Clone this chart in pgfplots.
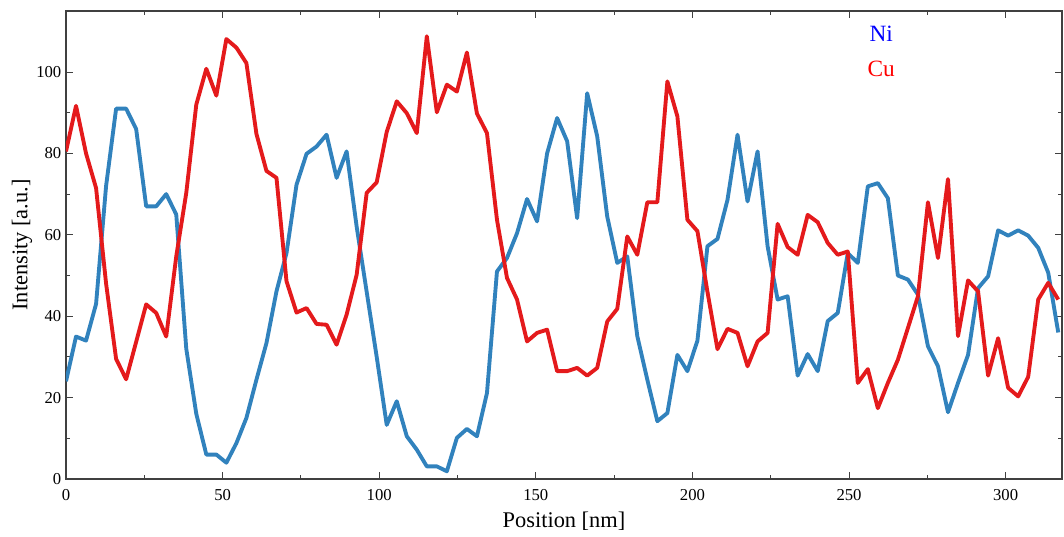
\documentclass[border=0pt]{standalone}
\usepackage{fontspec}
\setmainfont{Liberation Serif}
\usepackage{pgfplots}
\pgfplotsset{compat=1.18}
\usepackage{pgfplotstable}
\definecolor{niblue}{RGB}{49,130,189}
\definecolor{cured}{RGB}{228,26,28}
\pgfplotstableread{
x ni cu
0 24 80.5
3.2 35 91.7
6.4 34 80
9.6 43 71.5
12.8 72 48
16 91 29.5
19.2 91 24.5
22.4 86 33.7
25.6 67 42.9
28.8 67 40.8
32 70 35
35.2 65 54.7
38.4 32 70.3
41.6 16 92
44.8 6 100.8
48 6 94.2
51.2 4 108.1
54.4 8.8 106
57.6 15 102.2
60.8 24.4 84.8
64 33.4 75.7
67.2 46.1 74
70.4 55.5 48.6
73.6 72.3 40.9
76.8 79.9 42
80 81.7 38.1
83.2 84.6 37.9
86.4 74 33
89.6 80.5 40.4
92.8 62 50.2
96 46 70.3
99.2 30 72.9
102.4 13.3 85.3
105.6 19.1 92.8
108.8 10.5 89.9
112 7.2 85
115.2 3.1 108.8
118.4 3.1 90.1
121.6 1.9 96.9
124.8 10.1 95.2
128 12.3 104.8
131.2 10.5 89.8
134.4 21.1 85
137.6 51 63.7
140.8 54.3 49.4
144 60.4 44.1
147.2 68.8 33.8
150.4 63.3 35.9
153.6 80 36.7
156.8 88.7 26.5
160 83 26.5
163.2 64.1 27.3
166.4 94.8 25.4
169.6 84.2 27.3
172.8 64.5 38.7
176 53.1 41.8
179.2 54.7 59.6
182.4 35.1 55.1
185.6 24.4 68
188.8 14.2 68
192 16.2 97.7
195.2 30.5 89.1
198.4 26.5 63.7
201.6 34 60.9
204.8 57.2 46
208 59 31.9
211.2 68.6 36.9
214.4 84.6 35.9
217.6 68.2 27.7
220.8 80.5 33.8
224 57.2 35.9
227.2 44.1 62.7
230.4 44.9 57
233.6 25.4 55.1
236.8 30.7 64.9
240 26.5 63.1
243.2 38.8 58
246.4 40.8 55.1
249.6 55.5 55.9
252.8 53.1 23.6
256 71.9 27
259.2 72.7 17.4
262.4 69 23.6
265.6 50 29.3
268.8 49 37.1
272 45.3 44.9
275.2 32.6 68
278.4 27.7 54.3
281.6 16.4 73.7
284.8 23.6 35.1
288 30.5 48.8
291.2 46.9 46.1
294.4 49.8 25.4
297.6 61.1 34.6
300.8 59.8 22.4
304 61.1 20.3
307.2 59.8 25.1
310.4 56.8 44.1
313.6 50.7 48.2
316.8 36 44.1
}\profile
\begin{document}
\begin{tikzpicture}
\begin{axis}[
  scale only axis,
  width=747pt, height=351pt,
  xmin=0, xmax=318, ymin=0, ymax=115,
  xtick={0,50,...,300}, ytick={0,20,...,100},
  minor x tick num=1, minor y tick num=1,
  tick align=inside,
  major tick length=5.25pt, minor tick length=3pt,
  axis line style={black!75, line width=0.8pt},
  every tick/.style={black!75, line width=0.7pt},
  tick label style={font=\fontsize{12.5}{14}\selectfont},
  xticklabel style={yshift=-4.5pt},
  /pgf/number format/assume math mode=true,
  label style={font=\fontsize{16.8}{20}\selectfont},
  xlabel={Position [nm]},
  ylabel={Intensity [a.u.]},
  xlabel style={at={(axis description cs:0.5,-0.0897)}, anchor=center},
  ylabel style={at={(axis description cs:-0.0442,0.5)}, anchor=center},
  legend image code/.code={},
  legend cell align=center,
  legend style={draw=none, fill=none, at={(axis cs:260.3,111.4)}, anchor=north,
    inner sep=0pt, font=\fontsize{17.5}{21}\selectfont, row sep=10pt,
    nodes={inner sep=0pt, text height=12pt, text depth=4pt}},
]
\addplot[niblue, line width=2.9pt, line join=round] table[x=x, y=ni] {\profile};
\addlegendentry{\textcolor{blue}{Ni}}
\addplot[cured, line width=2.9pt, line join=round] table[x=x, y=cu] {\profile};
\addlegendentry{\textcolor{red}{Cu}}
\end{axis}
\path ([xshift=-49.5pt,yshift=-43.5pt]current axis.south west) rectangle ([xshift=1.5pt,yshift=8.25pt]current axis.north east);
\end{tikzpicture}
\end{document}
